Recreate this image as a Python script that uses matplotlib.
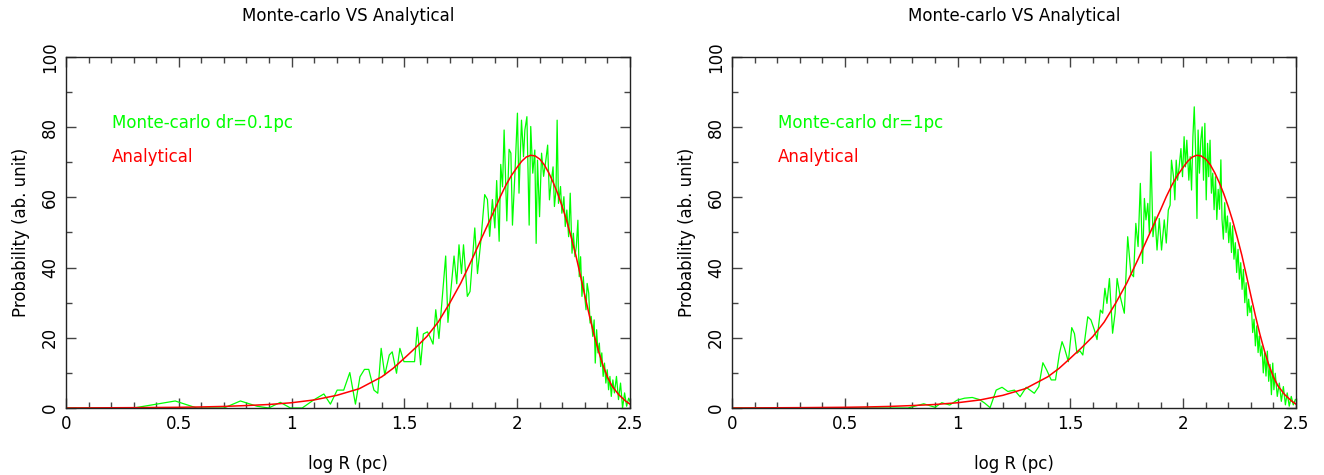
import numpy as np
import matplotlib
matplotlib.use("Agg")
import matplotlib.pyplot as plt
from matplotlib.ticker import MultipleLocator

# analytical curve (same in both panels)
an_x = [0.0, 0.3, 0.5, 0.6, 0.7, 0.8, 0.9, 1.0, 1.1, 1.2, 1.3, 1.4, 1.45, 1.5,
        1.55, 1.6, 1.65, 1.7, 1.75, 1.8, 1.85, 1.9, 1.925, 1.95, 1.975, 2.0,
        2.02, 2.04, 2.06, 2.08, 2.10, 2.12, 2.14, 2.16, 2.18, 2.20, 2.22, 2.24,
        2.26, 2.28, 2.30, 2.32, 2.34, 2.36, 2.38, 2.40, 2.42, 2.45, 2.48, 2.5]
an_y = [0.0, 0.1, 0.2, 0.3, 0.45, 0.7, 1.0, 1.5, 2.3, 3.6, 5.5, 8.9, 11.3, 14.2,
        17.2, 20.4, 24.5, 29.8, 35.6, 42.4, 49.5, 56.5, 60.2, 63.5, 66.3, 68.6,
        70.3, 71.5, 72.0, 71.8, 70.9, 69.3, 67.0, 64.2, 61.0, 57.3, 53.2, 48.5,
        43.5, 37.8, 32.0, 26.3, 21.0, 16.3, 12.2, 8.8, 6.3, 3.8, 2.0, 1.1]

# Monte-carlo, dr = 0.1 pc
mc1_x = [0.0, 0.3, 0.484, 0.58, 0.70, 0.773, 0.847, 0.898, 0.95, 0.995, 1.047,
         1.098, 1.143, 1.172, 1.202, 1.231, 1.258, 1.283, 1.303, 1.323, 1.342,
         1.365, 1.382, 1.397, 1.413, 1.433, 1.446, 1.465, 1.48, 1.498, 1.52,
         1.545, 1.557, 1.572, 1.584, 1.602, 1.613, 1.627, 1.639, 1.653, 1.683,
         1.693, 1.705, 1.72, 1.732, 1.742, 1.753, 1.762, 1.779, 1.791, 1.801,
         1.812, 1.824, 1.838, 1.856, 1.868, 1.878, 1.89, 1.901, 1.909, 1.92,
         1.927, 1.935, 1.942, 1.954, 1.964, 1.972, 1.979, 1.99, 2.001, 2.008,
         2.019, 2.028, 2.034, 2.043, 2.053, 2.06, 2.069, 2.078, 2.084, 2.09,
         2.099, 2.108, 2.117, 2.127, 2.135, 2.143, 2.15, 2.159, 2.165, 2.172,
         2.177, 2.183, 2.192, 2.198, 2.207, 2.213, 2.22, 2.228, 2.235, 2.243,
         2.249, 2.256, 2.262, 2.269, 2.275, 2.281, 2.287, 2.293, 2.298, 2.305,
         2.31, 2.317, 2.323, 2.328, 2.335, 2.341, 2.346, 2.352, 2.358, 2.364,
         2.37, 2.375, 2.381, 2.387, 2.393, 2.399, 2.405, 2.411, 2.417, 2.424,
         2.431, 2.44, 2.449, 2.458, 2.467, 2.476, 2.485, 2.494, 2.5]
mc1_y = [0.0, 0.0, 2.0, 0.0, 0.0, 2.0, 0.5, 0.0, 1.6, 0.0, 0.0,
         2.3, 4.0, 1.1, 5.1, 5.1, 10.1, 1.1, 8.9, 11.0, 11.0,
         5.1, 4.2, 17.0, 9.4, 15.1, 16.0, 9.9, 17.0, 13.2, 13.2,
         13.2, 23.0, 12.3, 21.1, 21.7, 20.3, 18.2, 28.0, 19.8, 43.3,
         24.4, 32.7, 43.3, 35.4, 46.5, 38.3, 46.5, 31.8, 33.2, 41.8,
         51.3, 38.3, 47.0, 60.8, 59.4, 48.9, 59.4, 51.3, 64.8, 47.5,
         69.4, 63.0, 79.2, 53.3, 73.7, 72.6, 52.1, 66.9, 84.0, 61.2,
         82.0, 71.6, 79.2, 83.0, 52.1, 80.2, 66.9, 73.5, 46.9, 70.6,
         54.5, 72.6, 66.0, 70.6, 74.9, 59.3, 64.0, 68.7, 57.4, 62.1,
         82.0, 58.3, 63.1, 55.5, 60.2, 51.7, 56.4, 48.8, 61.2, 44.1,
         49.8, 43.1, 46.0, 53.5, 37.4, 43.1, 31.8, 37.4, 32.7, 28.0,
         35.5, 32.7, 24.2, 26.1, 20.4, 25.1, 12.8, 22.3, 15.7, 18.5,
         11.8, 15.7, 9.0, 12.8, 7.1, 10.9, 5.2, 9.0, 3.3, 8.0,
         4.3, 9.0, 2.4, 7.1, 0.0, 4.3, 0.5, 2.8, 1.9]

# Monte-carlo, dr = 1 pc
mc2_x = [0.0, 0.78, 0.85, 0.9, 0.93, 0.965, 0.997, 1.031, 1.065, 1.097, 1.12,
         1.144, 1.171, 1.197, 1.223, 1.252, 1.277, 1.304, 1.34, 1.36, 1.378,
         1.395, 1.415, 1.434, 1.451, 1.463, 1.474, 1.491, 1.506, 1.518, 1.529,
         1.542, 1.555, 1.577, 1.591, 1.606, 1.618, 1.633, 1.643, 1.653, 1.662,
         1.673, 1.687, 1.698, 1.707, 1.721, 1.739, 1.754, 1.768, 1.78, 1.79,
         1.8, 1.81, 1.82, 1.828, 1.835, 1.843, 1.85, 1.857, 1.866, 1.875,
         1.884, 1.894, 1.904, 1.916, 1.925, 1.934, 1.942, 1.948, 1.957, 1.963,
         1.969, 1.975, 1.982, 1.99, 1.997, 2.004, 2.01, 2.016, 2.025, 2.031,
         2.037, 2.043, 2.049, 2.055, 2.061, 2.066, 2.072, 2.078, 2.084, 2.09,
         2.096, 2.102, 2.108, 2.113, 2.119, 2.125, 2.131, 2.137, 2.143, 2.149,
         2.155, 2.161, 2.167, 2.172, 2.178, 2.184, 2.19, 2.196, 2.202, 2.208,
         2.214, 2.219, 2.225, 2.231, 2.237, 2.243, 2.249, 2.255, 2.261, 2.267,
         2.273, 2.279, 2.285, 2.29, 2.296, 2.302, 2.308, 2.314, 2.32, 2.326,
         2.332, 2.337, 2.343, 2.349, 2.355, 2.361, 2.367, 2.373, 2.379, 2.385,
         2.391, 2.397, 2.402, 2.408, 2.417, 2.426, 2.435, 2.444, 2.453, 2.461,
         2.47, 2.479, 2.488, 2.497]
mc2_y = [0.0, 0.0, 1.2, 0.2, 1.5, 0.85, 2.2, 2.8, 3.0, 2.4, 1.4,
         0.1, 5.1, 5.9, 4.7, 5.1, 3.2, 5.9, 4.2, 6.1, 12.9,
         10.8, 8.0, 8.0, 15.4, 18.9, 17.0, 13.2, 22.9, 21.2, 15.6,
         16.3, 15.1, 26.0, 25.1, 22.3, 19.5, 27.9, 27.0, 34.1, 29.8,
         36.9, 21.3, 27.0, 36.9, 31.7, 27.0, 48.8, 38.4, 37.4, 52.6,
         46.0, 64.0, 41.2, 59.7, 53.6, 58.3, 49.8, 73.0, 48.8, 54.5,
         45.0, 54.0, 45.0, 53.6, 47.0, 56.4, 57.8, 70.6, 65.9, 59.3,
         70.6, 64.9, 68.7, 73.9, 65.9, 77.3, 68.7, 76.3, 64.9, 71.6,
         62.1, 77.3, 85.8, 73.5, 54.0, 79.2, 66.9, 76.3, 80.1, 64.9,
         81.1, 59.3, 75.4, 65.9, 76.3, 61.2, 66.9, 56.5, 65.9, 53.7,
         62.3, 56.6, 70.7, 53.8, 48.1, 58.5, 50.0, 54.7, 47.1, 52.8,
         44.3, 51.9, 42.4, 47.1, 38.6, 45.2, 36.7, 41.4, 33.8, 39.5,
         30.0, 35.7, 26.3, 31.0, 27.2, 29.1, 21.5, 25.3, 17.7, 23.4,
         15.8, 20.5, 14.8, 17.7, 10.0, 15.7, 9.1, 16.2, 7.6, 12.4,
         3.8, 12.8, 5.2, 9.9, 3.3, 7.1, 1.9, 6.1, 0.9, 4.3,
         0.5, 3.3, 0.9, 2.4]

panels = [
    (mc1_x, mc1_y, "Monte-carlo dr=0.1pc", 66),
    (mc2_x, mc2_y, "Monte-carlo dr=1pc", 732),
]

W, H = 1324, 475
fig = plt.figure(figsize=(W / 100, H / 100), dpi=100)
plt.rcParams['font.family'] = ['DejaVu Sans']

for mx, my, label, left_px in panels:
    ax = fig.add_axes([left_px / W, (H - 408) / H, 564 / W, 351 / H])
    ax.plot(mx, my, color="#00ff00", linewidth=0.9)
    ax.plot(an_x, an_y, color="#ff0000", linewidth=1.1)
    ax.set_xlim(0, 2.5)
    ax.set_ylim(0, 100)
    ax.xaxis.set_major_locator(MultipleLocator(0.5))
    ax.xaxis.set_minor_locator(MultipleLocator(0.1))
    ax.yaxis.set_major_locator(MultipleLocator(20))
    ax.yaxis.set_minor_locator(MultipleLocator(10))
    ax.set_xticks([0, 0.5, 1, 1.5, 2, 2.5])
    ax.set_xticklabels(["0", "0.5", "1", "1.5", "2", "2.5"])
    ax.tick_params(which="both", direction="in", top=True, right=True,
                   labelsize=12, color="#444444", width=1)
    ax.tick_params(which="major", length=7, pad=5)
    ax.tick_params(which="minor", length=4)
    for lab in ax.get_yticklabels():
        lab.set_rotation(90)
        lab.set_va("center")
    for s in ax.spines.values():
        s.set_linewidth(1.0)
        s.set_color("#222222")
    ax.set_title("Monte-carlo VS Analytical", fontsize=12, pad=26)
    ax.set_xlabel("log R (pc)", fontsize=12, labelpad=16)
    ax.set_ylabel("Probability (ab. unit)", fontsize=12, labelpad=8)
    ax.text(0.204, 81.2, label, color="#00ff00", fontsize=12, va="center")
    ax.text(0.204, 71.5, "Analytical", color="#ff0000", fontsize=12, va="center")

fig.savefig("out.png", dpi=100)
